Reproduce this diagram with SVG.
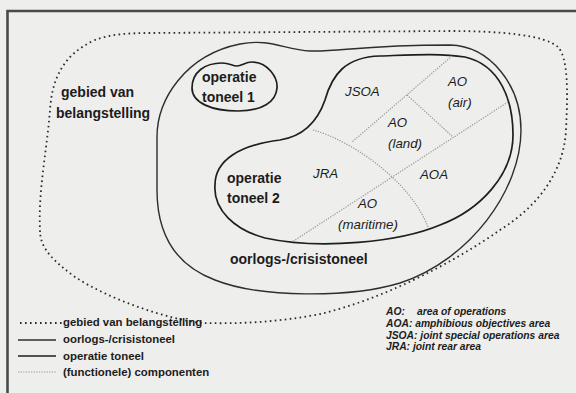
<svg xmlns="http://www.w3.org/2000/svg" width="576" height="393" viewBox="0 0 576 393">
<style>
.lbl{font-family:"Liberation Sans",Arial,sans-serif;font-weight:bold;font-size:14px;fill:#1c1c1c}
.it{font-family:"Liberation Sans",Arial,sans-serif;font-style:italic;font-size:13.3px;fill:#1c1c1c}
.leg{font-family:"Liberation Sans",Arial,sans-serif;font-weight:bold;font-size:11.4px;fill:#1c1c1c}
.legi{font-family:"Liberation Sans",Arial,sans-serif;font-weight:bold;font-style:italic;font-size:10.3px;fill:#1c1c1c}
.dots{fill:none;stroke:#2a2a2a;stroke-width:1.8;stroke-dasharray:1.6 3.4}
.war{fill:none;stroke:#2e2e2e;stroke-width:1.4}
.op{fill:none;stroke:#1e1e1e;stroke-width:1.7}
.comp{fill:none;stroke:#9a9a9a;stroke-width:1.2;stroke-dasharray:1.3 1.3}
.frame{fill:none;stroke:#4a4a4a;stroke-width:2.6}
</style>
<rect x="0" y="0" width="576" height="393" fill="#eeeeec"/>
<path class="frame" d="M7.5,393 V11 H576"/>

<g id="gebied-van-belangstelling">
<path class="dots" d="M40,232 C38,190 47,150 50,110 C52,80 62,55 95,40 C110,34 130,33 150,33 L450,31 C500,31 545,35 558,47 C568,58 568,90 566,130 C564,170 540,205 500,230 C450,265 380,300 320,314 C280,322 240,324 203,323 C170,320 110,300 75,277 C55,262 41,250 40,232 Z"/>
<text class="lbl" x="61" y="97">gebied van</text>
<text class="lbl" x="56" y="118">belangstelling</text>
</g>

<g id="oorlogs-crisistoneel">
<path class="war" d="M157,137 C157,100 185,55 240,44 C270,38 285,50 310,51 C340,52 360,45 450,45 C490,46 521,85 521,130 C521,190 470,260 400,283 C350,298 260,298 215,280 C175,265 157,235 157,190 Z"/>
<text class="lbl" x="230" y="264">oorlogs-/crisistoneel</text>
</g>

<g id="operatie-toneel-1">
<path class="op" d="M192,88 C192,72 205,63 222,63 C230,63 232,66 237,66 C242,66 245,62 252,62 C268,62 278,78 277,88 C276,102 262,111 238,111 C212,111 192,103 192,88 Z"/>
<text class="lbl" x="202" y="82">operatie</text>
<text class="lbl" x="202" y="102">toneel 1</text>
</g>

<g id="operatie-toneel-2">
<path class="op" d="M215,185 C215,160 240,145 280,140 C305,136 318,120 325,100 C332,75 345,57 380,56 C410,55 440,53 465,57 C500,65 513,100 513,135 C513,175 480,210 440,225 C400,242 320,250 265,238 C235,230 213,210 215,185 Z"/>
<text class="lbl" x="227" y="183">operatie</text>
<text class="lbl" x="227" y="203">toneel 2</text>
</g>

<g id="connectors">
<path class="comp" d="M452,56 L352,142"/>
<path class="comp" d="M407,95 L453,137"/>
<path class="comp" d="M508,102 L292,242"/>
<path class="comp" d="M313,130 C350,140 410,180 428,227"/>
</g>

<g id="jsoa"><text class="it" x="345" y="96">JSOA</text></g>
<g id="ao-air"><text class="it" x="448" y="86">AO</text><text class="it" x="448" y="107">(air)</text></g>
<g id="ao-land"><text class="it" x="388" y="127">AO</text><text class="it" x="388" y="148">(land)</text></g>
<g id="jra"><text class="it" x="313" y="178">JRA</text></g>
<g id="aoa"><text class="it" x="420" y="179">AOA</text></g>
<g id="ao-maritime"><text class="it" x="358" y="208">AO</text><text class="it" x="338" y="229">(maritime)</text></g>

<g id="legend">
<path class="dots" d="M20,323 H62"/>
<path class="war" d="M18,340 H56"/>
<path class="op" d="M18,356 H56"/>
<path class="comp" d="M18,372 H56"/>
<text class="leg" x="63" y="326">gebied van belangstelling</text>
<text class="leg" x="63" y="343">oorlogs-/crisistoneel</text>
<text class="leg" x="63" y="360">operatie toneel</text>
<text class="leg" x="63" y="376">(functionele) componenten</text>
<text class="legi" x="386" y="315">AO:<tspan x="417">area of operations</tspan></text>
<text class="legi" x="386" y="327">AOA: amphibious objectives area</text>
<text class="legi" x="386" y="338.5">JSOA: joint special operations area</text>
<text class="legi" x="386" y="350">JRA: joint rear area</text>
</g>
</svg>
